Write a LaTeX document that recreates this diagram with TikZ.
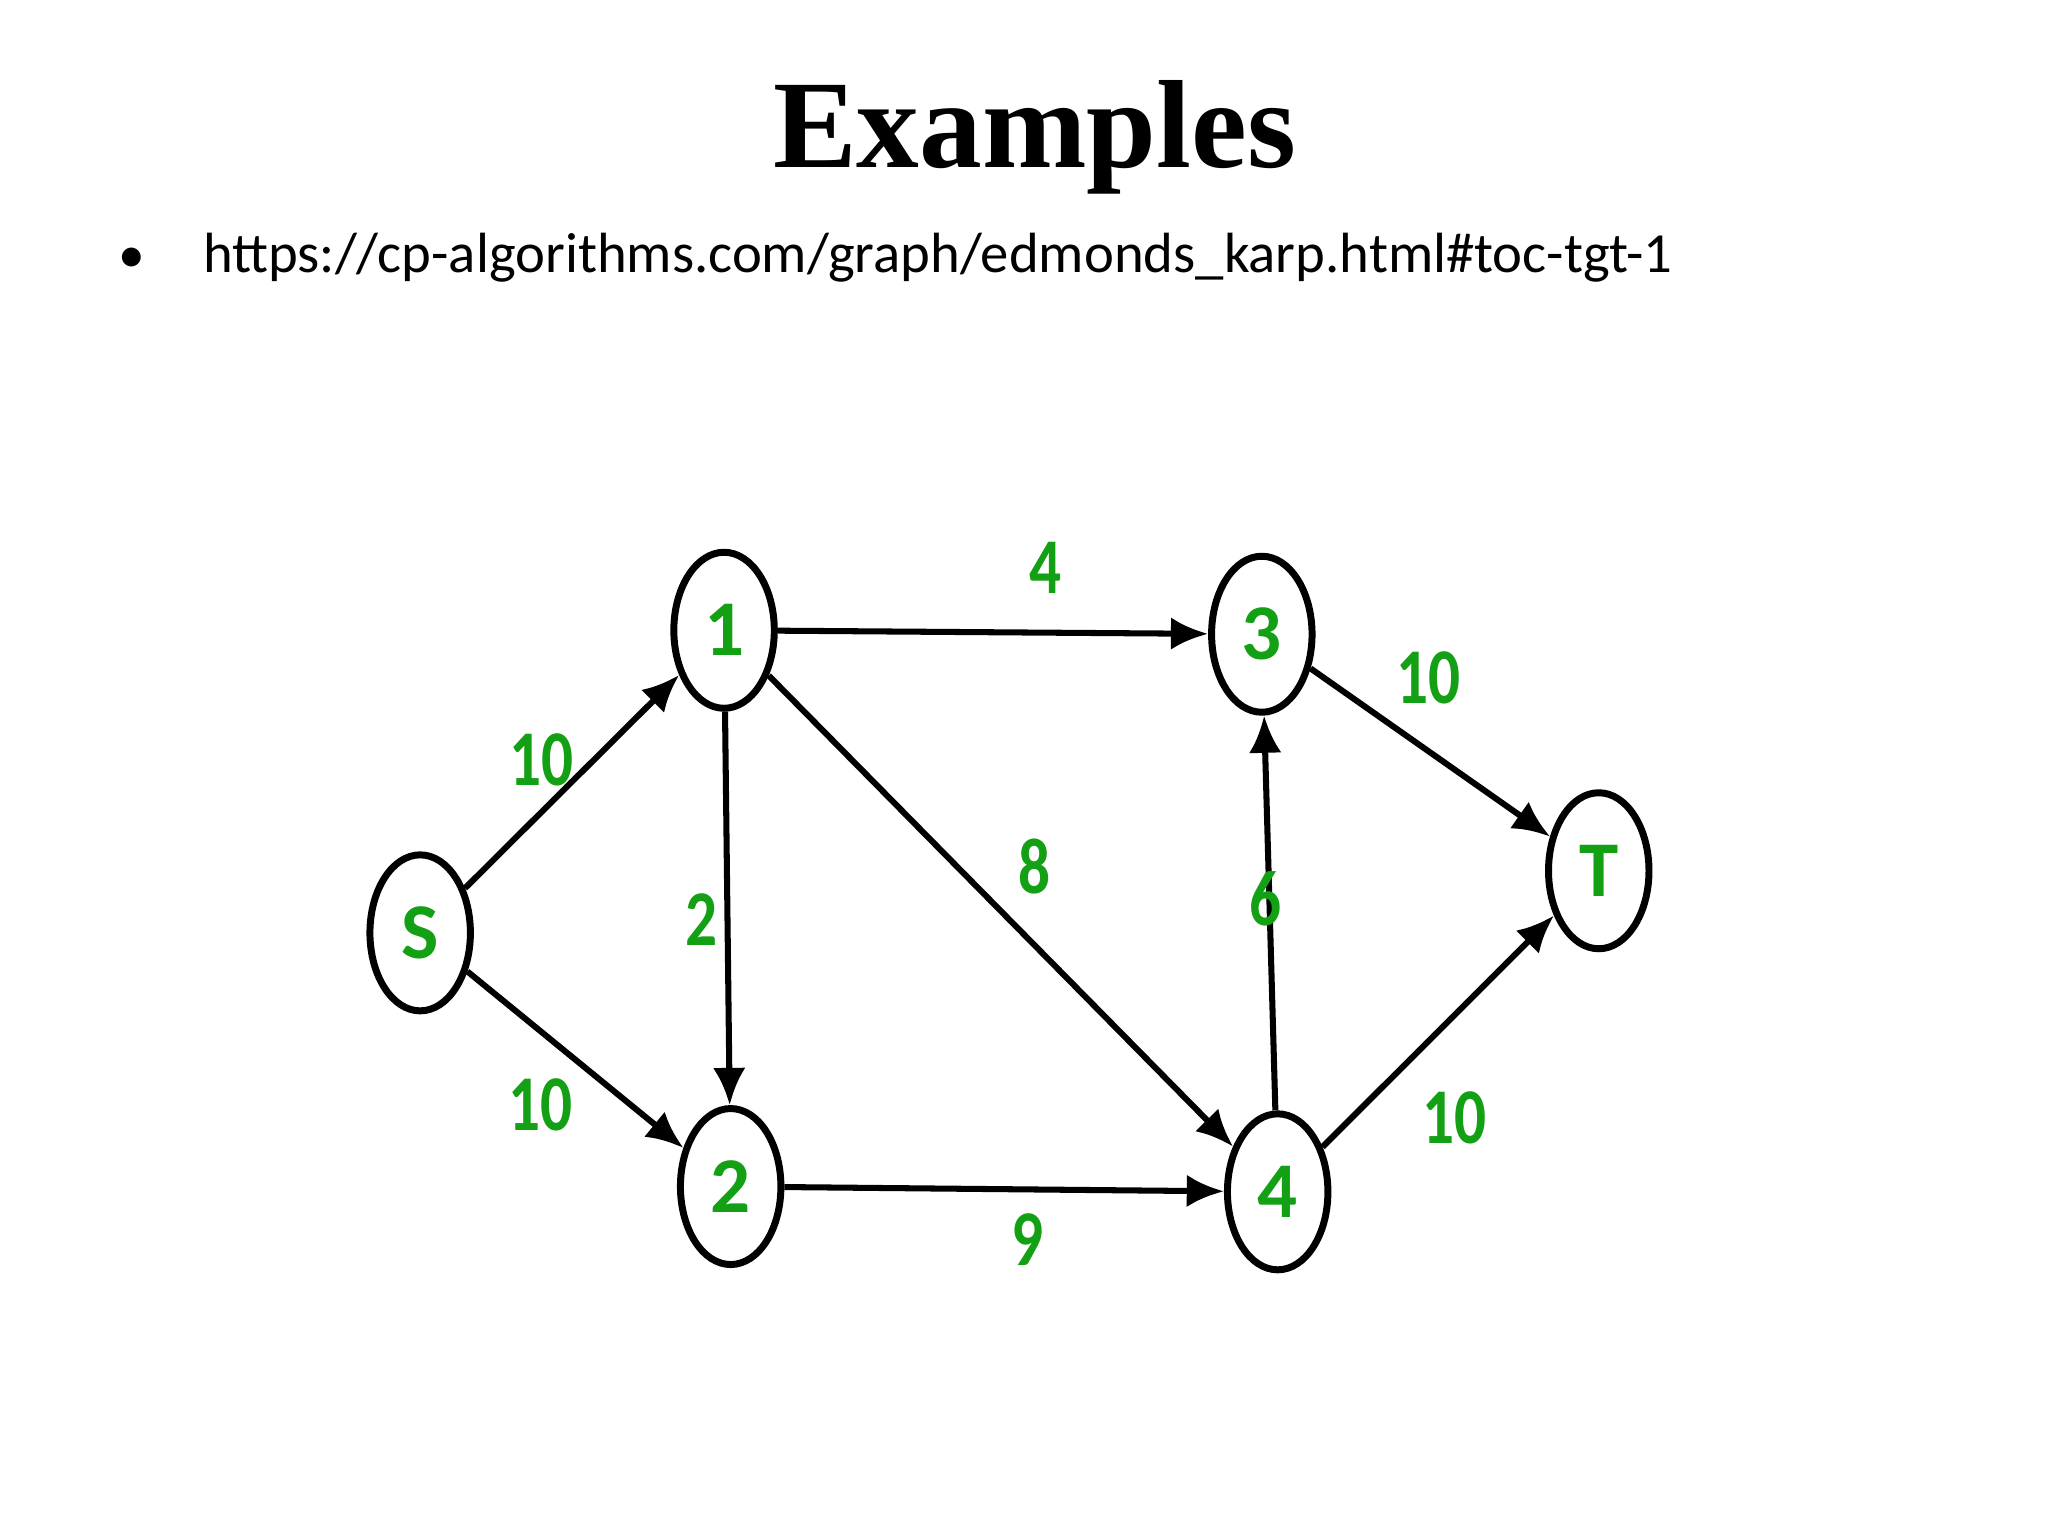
\documentclass[tikz,border=0pt]{standalone}
\usepackage{fontspec}
\setmainfont{Liberation Serif}
\newfontfamily\carl{Carlito}
\usetikzlibrary{arrows.meta,shapes.geometric}
\definecolor{lblgreen}{RGB}{20,160,20}
\begin{document}
\begin{tikzpicture}[x=0.01cm,y=-0.01cm,
  vert/.style={draw,line width=1.5pt,ellipse,minimum width=0.76cm,minimum height=1.18cm,inner sep=0pt,font=\carl\bfseries\fontsize{17}{17}\selectfont,text=lblgreen},
  edge/.style={line width=1.3pt,-{Latex[length=8pt,width=7pt]}},
  lbl/.style={font=\carl\bfseries\fontsize{17}{17}\selectfont,text=lblgreen,inner sep=0pt,xscale=0.8}]
\useasboundingbox (0,0) rectangle (1550,1162);
\node[font=\bfseries\fontsize{27}{27}\selectfont] (title) at (783,104) {Examples};
\node[anchor=base west,font=\carl\fontsize{12.2}{12.2}\selectfont,inner sep=0pt] (url) at (153,206) {https://cp-algorithms.com/graph/edmonds\_karp.html\#toc-tgt-1};
\node[anchor=base,font=\carl\fontsize{11.5}{11.5}\selectfont,inner sep=0pt] (bul) at (100,206) {•};
\node[vert] (S) at (318,706) {S};
\node[vert] (n1) at (548,477) {1};
\node[vert] (n2) at (553,898) {2};
\node[vert] (n3) at (955,480) {3};
\node[vert] (n4) at (967,902) {4};
\node[vert] (T) at (1210,659) {T};
\draw[edge] (S) -- (n1);
\draw[edge] (S) -- (n2);
\draw[edge] (n1) -- (n2);
\draw[edge] (n1) -- (n3);
\draw[edge] (n1) -- (n4);
\draw[edge] (n2) -- (n4);
\draw[edge] (n4) -- (n3);
\draw[edge] (n3) -- (T);
\draw[edge] (n4) -- (T);
\node[lbl] (l1) at (791,430) {4};
\node[lbl] (l2) at (410,575) {10};
\node[lbl] (l3) at (531,696) {2};
\node[lbl] (l4) at (783,656) {8};
\node[lbl] (l5) at (409,836) {10};
\node[lbl] (l6) at (778,938) {9};
\node[lbl] (l7) at (958,680) {6};
\node[lbl] (l8) at (1081,513) {10};
\node[lbl] (l9) at (1101,846) {10};
\end{tikzpicture}
\end{document}
